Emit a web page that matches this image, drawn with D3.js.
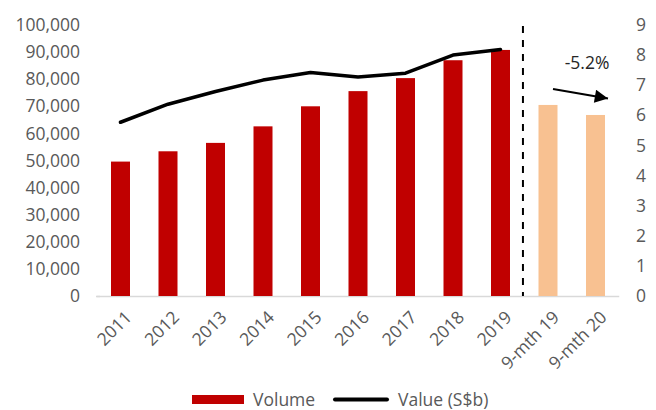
<!DOCTYPE html>
<html>
<head>
<meta charset="utf-8">
<script src="https://cdn.jsdelivr.net/npm/d3@7"></script>
<style>
  html, body { margin: 0; padding: 0; background: #fff; }
  svg { display: block; font-family: "Open Sans", sans-serif; }
</style>
</head>
<body>
<svg id="chart" width="656" height="410"></svg>
<script>
const categories = ["2011","2012","2013","2014","2015","2016","2017","2018","2019","9-mth 19","9-mth 20"];
const volume = [49600, 53400, 56500, 62600, 70000, 75600, 80400, 87000, 90800, 70500, 66800];
const valueSGDb = [5.77, 6.37, 6.79, 7.17, 7.42, 7.27, 7.40, 8.00, 8.19];
const leftTicks = [0,10000,20000,30000,40000,50000,60000,70000,80000,90000,100000];
const rightTicks = [0,1,2,3,4,5,6,7,8,9];
const annotation = "-5.2%";
const legendLabels = ["Volume", "Value (S$b)"];

const svg = d3.select("#chart");
const textColor = "#595959";
const fontSize = "17.5px";

const x = d3.scaleBand().domain(categories).range([96.75, 619.25]).paddingInner(0.6).paddingOuter(0.3);
const yL = d3.scaleLinear().domain([0, 100000]).range([296, 25]);
const yR = d3.scaleLinear().domain([0, 9]).range([296, 25]);

// baseline
svg.append("line").attr("x1", 96.75).attr("x2", 619.25)
  .attr("y1", yL(0) + 0.5).attr("y2", yL(0) + 0.5)
  .attr("stroke", "#d9d9d9").attr("stroke-width", 1.5);

// bars
svg.append("g").selectAll("rect").data(categories).join("rect")
  .attr("x", d => x(d))
  .attr("width", x.bandwidth())
  .attr("y", (d, i) => yL(volume[i]))
  .attr("height", (d, i) => yL(0) - yL(volume[i]))
  .attr("fill", (d, i) => i < 9 ? "#C00000" : "#F8C191");

// value line
const line = d3.line()
  .x((d, i) => x(categories[i]) + x.bandwidth() / 2)
  .y(d => yR(d));
svg.append("path").datum(valueSGDb)
  .attr("d", line)
  .attr("fill", "none")
  .attr("stroke", "#000")
  .attr("stroke-width", 3.5)
  .attr("stroke-linejoin", "round")
  .attr("stroke-linecap", "round");

// dashed separator
const sepX = (x(categories[8]) + x.bandwidth() + x(categories[9])) / 2 - 1.3;
svg.append("line").attr("x1", sepX).attr("x2", sepX)
  .attr("y1", 26).attr("y2", yL(0))
  .attr("stroke", "#000").attr("stroke-width", 2)
  .attr("stroke-dasharray", "7,7");

// left axis
const gL = svg.append("g").attr("transform", "translate(80,0)")
  .call(d3.axisLeft(yL).tickValues(leftTicks).tickSize(0).tickPadding(0).tickFormat(d3.format(",")));
gL.select(".domain").remove();
gL.selectAll("text").attr("fill", textColor).style("font-size", fontSize).style("font-family", "'Open Sans', sans-serif");
svg.append("line").attr("x1", 96).attr("x2", 100).attr("y1", yL(0) + 0.5).attr("y2", yL(0) + 0.5)
  .attr("stroke", "#d9d9d9").attr("stroke-width", 1.5);

// right axis
const gR = svg.append("g").attr("transform", "translate(636,0)")
  .call(d3.axisRight(yR).tickValues(rightTicks).tickSize(0).tickPadding(0).tickFormat(d3.format("d")));
gR.select(".domain").remove();
gR.selectAll("text").attr("fill", textColor).style("font-size", fontSize).style("font-family", "'Open Sans', sans-serif");

// x labels
svg.append("g").selectAll("text").data(categories).join("text")
  .attr("transform", d => `translate(${x(d) + x.bandwidth() / 2 + 8},${314}) rotate(-45)`)
  .attr("text-anchor", "end")
  .attr("dy", "0.35em")
  .attr("fill", textColor)
  .style("font-size", fontSize)
  .text(d => d);

// annotation
svg.append("text").attr("x", 587).attr("y", 63).attr("dy", "0.35em")
  .attr("text-anchor", "middle").attr("fill", "#262626").style("font-size", fontSize)
  .text(annotation);
svg.append("defs").append("marker").attr("id", "arrow")
  .attr("viewBox", "0 0 10 10").attr("refX", 10).attr("refY", 5)
  .attr("markerWidth", 7).attr("markerHeight", 6).attr("markerUnits", "strokeWidth")
  .attr("orient", "auto")
  .append("path").attr("d", "M0,0 L10,5 L0,10 Z").attr("fill", "#000");
svg.append("line").attr("x1", 553).attr("y1", 89).attr("x2", 608).attr("y2", 98.5)
  .attr("stroke", "#000").attr("stroke-width", 2.2).attr("marker-end", "url(#arrow)");

// legend
const lg = svg.append("g");
lg.append("rect").attr("x", 192).attr("y", 395).attr("width", 52).attr("height", 9).attr("fill", "#C00000");
lg.append("text").attr("x", 253).attr("y", 399.5).attr("dy", "0.35em").attr("fill", textColor)
  .style("font-size", fontSize).text(legendLabels[0]);
lg.append("line").attr("x1", 335).attr("x2", 387).attr("y1", 399.5).attr("y2", 399.5)
  .attr("stroke", "#000").attr("stroke-width", 4).attr("stroke-linecap", "round");
lg.append("text").attr("x", 398).attr("y", 399.5).attr("dy", "0.35em").attr("fill", textColor)
  .style("font-size", fontSize).text(legendLabels[1]);
</script>
</body>
</html>
